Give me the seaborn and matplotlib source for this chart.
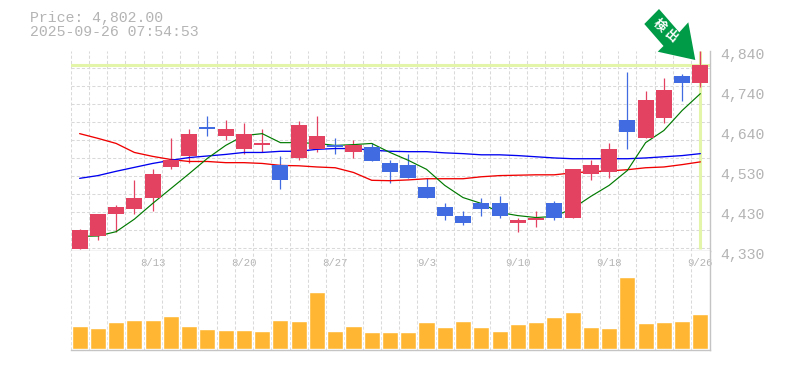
import numpy as np
import pandas as pd
import matplotlib
matplotlib.use("Agg")
import matplotlib.pyplot as plt
import seaborn as sns
from matplotlib.patches import Polygon
from matplotlib.transforms import ScaledTranslation

# =================================================
# 1. Data
# =================================================

opens = [4333, 4368, 4422, 4437, 4463, 4544, 4570, 4646, 4621, 4588, 4598, 4547,
         4565, 4588, 4600, 4580, 4595, 4552, 4547, 4493, 4440, 4417, 4450, 4450,
         4399, 4407, 4452, 4414, 4526, 4531, 4662, 4616, 4667, 4776, 4756]
closes = [4381, 4424, 4440, 4465, 4526, 4560, 4628, 4639, 4641, 4628, 4605, 4509,
          4651, 4623, 4593, 4598, 4557, 4529, 4516, 4463, 4419, 4401, 4435, 4419,
          4409, 4414, 4414, 4539, 4547, 4590, 4631, 4715, 4738, 4758, 4802]
highs = [4386, 4424, 4447, 4509, 4537, 4616, 4641, 4672, 4664, 4654, 4641, 4570,
         4659, 4672, 4616, 4613, 4605, 4560, 4575, 4516, 4450, 4432, 4465, 4468,
         4414, 4432, 4455, 4539, 4562, 4605, 4786, 4738, 4771, 4781, 4840]
lows = [4333, 4356, 4376, 4422, 4430, 4537, 4554, 4621, 4613, 4577, 4582, 4488,
        4560, 4580, 4575, 4565, 4557, 4501, 4516, 4463, 4407, 4396, 4417, 4414,
        4376, 4389, 4407, 4412, 4511, 4514, 4588, 4616, 4654, 4710, 4746]

ma_short = [4366, 4367, 4378, 4410, 4450, 4488, 4526, 4565, 4598, 4623, 4628, 4605,
            4605, 4603, 4598, 4600, 4603, 4580, 4560, 4537, 4496, 4465, 4450, 4427,
            4419, 4414, 4417, 4437, 4468, 4496, 4534, 4605, 4636, 4687, 4730]
ma_mid = [4514, 4521, 4532, 4542, 4552, 4560, 4567, 4571, 4575, 4580, 4580, 4583,
          4583, 4588, 4590, 4590, 4586, 4583, 4582, 4582, 4579, 4577, 4574, 4574,
          4572, 4569, 4566, 4564, 4564, 4564, 4564, 4566, 4569, 4572, 4577]
ma_long = [4628, 4616, 4603, 4580, 4570, 4562, 4557, 4557, 4554, 4554, 4552, 4547,
           4546, 4543, 4541, 4529, 4509, 4508, 4510, 4513, 4513, 4513, 4518, 4521,
           4522, 4523, 4523, 4528, 4531, 4533, 4536, 4541, 4543, 4549, 4556]

volume = [67, 61, 79, 85, 85, 97, 67, 58, 55, 55, 52, 85, 82, 169, 52, 67, 49, 49,
          49, 79, 64, 82, 64, 52, 73, 79, 94, 109, 64, 61, 214, 76, 79, 82, 103]

date_ticks = [4, 9, 14, 19, 24, 29, 34]
date_labels = ["8/13", "8/20", "8/27", "9/3", "9/10", "9/18", "9/26"]
price_ticks = [4840, 4738, 4636, 4534, 4432, 4330]
price_labels = ["4,840", "4,740", "4,640", "4,530", "4,430", "4,330"]
last_price = 4802

df = pd.DataFrame({"day": range(len(opens)), "open": opens, "close": closes,
                   "high": highs, "low": lows, "short": ma_short, "mid": ma_mid,
                   "long": ma_long, "volume": volume})

RED = "#e34360"
BLUE = "#416be0"
GREY = "#b4b4b4"
LINE_GREY = "#c4c4c4"
HILITE = "#e2f5a8"
W, H = 785, 370

# =================================================
# 2. Figure and panels
# =================================================

sns.set_theme(style="white")
plt.rcParams["font.family"] = ["Liberation Mono", "DejaVu Sans Mono"]

fig = plt.figure(figsize=(W / 100, H / 100), dpi=100)


def panel(left, top, right, bottom):
    return fig.add_axes([left / W, 1 - bottom / H, (right - left) / W, (bottom - top) / H])


ax = panel(70.5, 50.5, 709.5, 250.5)
ax_vol = panel(70.5, 250.5, 709.5, 349.5)

for a in (ax, ax_vol):
    a.set_xlim(-0.5, 34.5)
    a.set_xticks(np.arange(-0.5, 34.6), minor=True)
    a.grid(which="minor", axis="x", color="#d9d9d9", linestyle=(0, (3, 2)), linewidth=0.75)
    a.set_axisbelow(True)
    a.tick_params(which="both", length=0)
    for side in ("top", "left"):
        a.spines[side].set_visible(False)
    for side in ("right", "bottom"):
        a.spines[side].set_color(LINE_GREY)
        a.spines[side].set_linewidth(1.0)

# =================================================
# 3. Price panel
# =================================================

ax.set_ylim(4330, 4840)
ax.set_yticks(np.arange(4840, 4330, -45.9), minor=True)
ax.grid(which="minor", axis="y", color="#d9d9d9", linestyle=(0, (3, 2)), linewidth=0.75)
ax.yaxis.tick_right()
ax.set_yticks(price_ticks, price_labels)
ax.tick_params(axis="y", pad=7.5, labelsize=10.7, labelcolor=GREY)
shift = ScaledTranslation(0, -3 / 100, fig.dpi_scale_trans)
for tick in ax.yaxis.get_major_ticks():
    tick.label2.set_transform(tick.label2.get_transform() + shift)

ax.axhline(last_price, color=HILITE, linewidth=2.2, zorder=1)
ax.plot([34, 34], [4335, 4840], color=HILITE, linewidth=2.2, zorder=1, solid_capstyle="butt")

up = df["close"] >= df["open"]
colors = np.where(up, RED, BLUE)
ax.vlines(df["day"], df["low"], df["high"], colors=colors, linewidth=0.9, zorder=2)

sns.lineplot(data=df, x="day", y="long", color="#f00000", linewidth=0.95, ax=ax, zorder=3)
sns.lineplot(data=df, x="day", y="mid", color="#0000f0", linewidth=0.95, ax=ax, zorder=3)
sns.lineplot(data=df, x="day", y="short", color="#007a00", linewidth=0.85, ax=ax, zorder=3)

ax.bar(df["day"], df["close"] - df["open"], bottom=df["open"], width=0.88,
       color=colors, linewidth=0, zorder=4)
ax.set_xlabel("")
ax.set_ylabel("")
ax.set_xticks([])

# =================================================
# 4. Volume panel
# =================================================

sns.barplot(data=df, x="day", y="volume", color="#ffb733", width=0.88, saturation=1,
            native_scale=True, ax=ax_vol, zorder=2)
ax_vol.set_xlim(-0.5, 34.5)
ax_vol.set_ylim(-3, 294)
ax_vol.set_xlabel("")
ax_vol.set_ylabel("")
ax_vol.set_yticks([])
ax_vol.set_xticks(date_ticks, date_labels)
ax_vol.xaxis.tick_top()
ax_vol.tick_params(axis="x", which="major", pad=-12.5, labelsize=7.7, labelcolor=GREY)

# =================================================
# 5. Header text and arrow badge
# =================================================

fig.text(30 / W, 1 - 18 / H, "Price: 4,802.00", fontsize=10.7, color=GREY, va="center")
fig.text(30 / W, 1 - 32.5 / H, "2025-09-26 07:54:53", fontsize=10.7, color=GREY, va="center")

arrow = [(659, 9), (644.3, 24), (663.5, 46), (657.7, 51.7), (695.3, 60), (688.3, 22.3), (679.3, 32.3)]
fig.add_artist(Polygon([(x / W, 1 - y / H) for x, y in arrow], closed=True,
                       transform=fig.transFigure, facecolor="#009b47", edgecolor="none"))
fig.text(666 / W, 1 - 30.5 / H, "検 出", color="white", fontsize=9, fontweight="bold",
         family=["Noto Sans CJK JP", "DejaVu Sans"], rotation=-41, rotation_mode="anchor",
         ha="center", va="center")

fig.savefig("out.png", dpi=100)
